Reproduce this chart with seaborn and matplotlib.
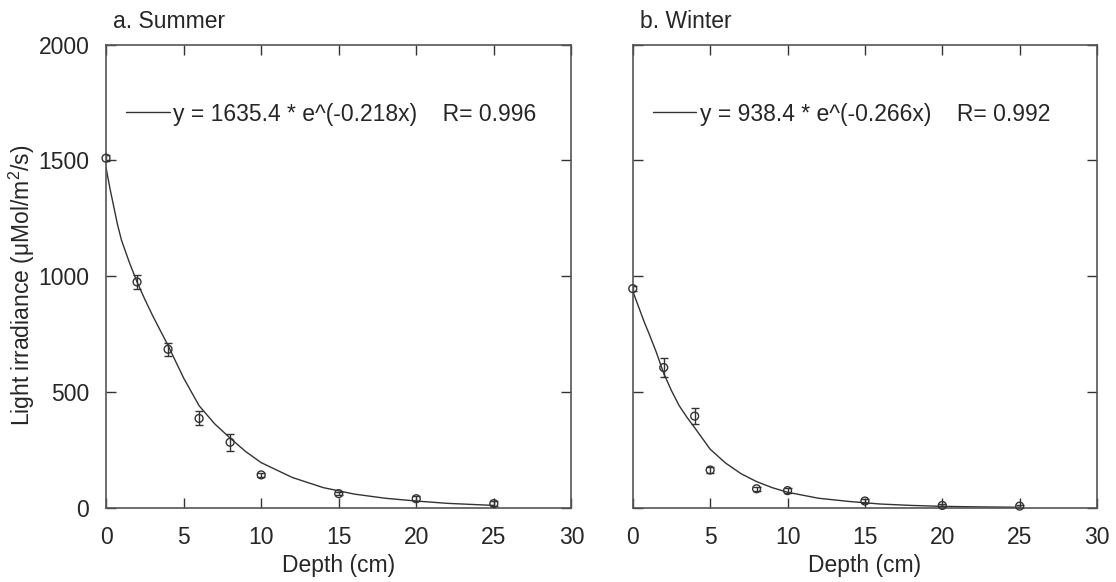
import seaborn as sns
import numpy as np
import pandas as pd
import matplotlib
matplotlib.use("Agg")
import matplotlib.pyplot as plt

sns.set_style("ticks")
plt.rcParams['font.family'] = ['Liberation Sans', 'DejaVu Sans']
plt.rcParams['mathtext.default'] = 'regular'

summer_depth = [0, 2, 4, 6, 8, 10, 15, 20, 25]
summer_light = [1510, 975, 684, 385, 282, 141, 60, 38, 17]
summer_err = [12, 30, 28, 30, 36, 10, 8, 10, 10]

winter_depth = [0, 2, 4, 5, 8, 10, 15, 20, 25]
winter_light = [946, 605, 395, 162, 81, 73, 28, 9, 6]
winter_err = [10, 40, 35, 12, 8, 10, 10, 8, 6]

# fitted curves as drawn in the figure
curve_depth = [0, 0.25, 0.5, 0.75, 1, 1.5, 2, 2.5, 3, 3.5, 4, 5, 6, 7, 8, 9, 10,
               12, 14, 16, 18, 20, 22, 25]
summer_fit = [1470, 1380, 1300, 1220, 1155, 1060, 975, 900, 830, 765, 700, 560,
              440, 362, 300, 242, 194, 130, 86, 58, 40, 28, 18, 9]
winter_fit = [935, 890, 845, 800, 760, 675, 580, 505, 440, 390, 345, 252, 192,
              146, 112, 86, 66, 40, 26, 15, 9, 5, 3, 1]

titles = ["a. Summer", "b. Winter"]
equations = ["y = 1635.4 * e^(-0.218x)    R= 0.996",
             "y = 938.4 * e^(-0.266x)    R= 0.992"]

col = "#333333"
fs = 16.5

fig = plt.figure(figsize=(11.16, 5.82), dpi=100)
ax1 = fig.add_axes([0.095, 0.128, 0.417, 0.795])
ax2 = fig.add_axes([0.567, 0.128, 0.416, 0.795], sharey=ax1)

panels = [
    (ax1, summer_depth, summer_light, summer_err, summer_fit),
    (ax2, winter_depth, winter_light, winter_err, winter_fit),
]

for i, (ax, d, l, e, fit) in enumerate(panels):
    sns.lineplot(x=curve_depth, y=fit, ax=ax, color=col, lw=1.0)
    ax.errorbar(d, l, yerr=e, fmt='none', ecolor=col, elinewidth=1.0,
                capsize=3, capthick=1.0)
    sns.scatterplot(x=d, y=l, ax=ax, marker='o', s=32, facecolor='none',
                    edgecolor=col, linewidth=1.0, zorder=3, clip_on=False)
    ax.set_xlim(0, 30)
    ax.set_ylim(0, 2000)
    ax.set_xticks([0, 5, 10, 15, 20, 25, 30])
    ax.set_yticks([0, 500, 1000, 1500, 2000])
    ax.tick_params(direction='in', top=True, right=True, length=7,
                   width=1.0, color=col, labelsize=fs)
    ax.tick_params(axis='x', pad=13)
    ax.tick_params(axis='y', pad=12)
    for s in ax.spines.values():
        s.set_color('#555555')
        s.set_linewidth(1.2)
    ax.set_xlabel("Depth (cm)", fontsize=fs, labelpad=4)
    ax.set_ylabel("")
    ax.text(0.015, 1.025, titles[i], transform=ax.transAxes, fontsize=fs,
            ha='left', va='bottom')
    # legend-like annotation
    ax.plot([0.043, 0.137], [0.855, 0.855], transform=ax.transAxes,
            color=col, lw=1.0)
    ax.text(0.145, 0.85, equations[i], transform=ax.transAxes, fontsize=fs,
            ha='left', va='center')

ax1.set_ylabel("Light irradiance (\u03bcMol/m$^2$/s)", fontsize=fs)
ax1.yaxis.set_label_coords(-0.148, 0.48)
plt.setp(ax2.get_yticklabels(), visible=False)

plt.savefig("out.png", dpi=100)
